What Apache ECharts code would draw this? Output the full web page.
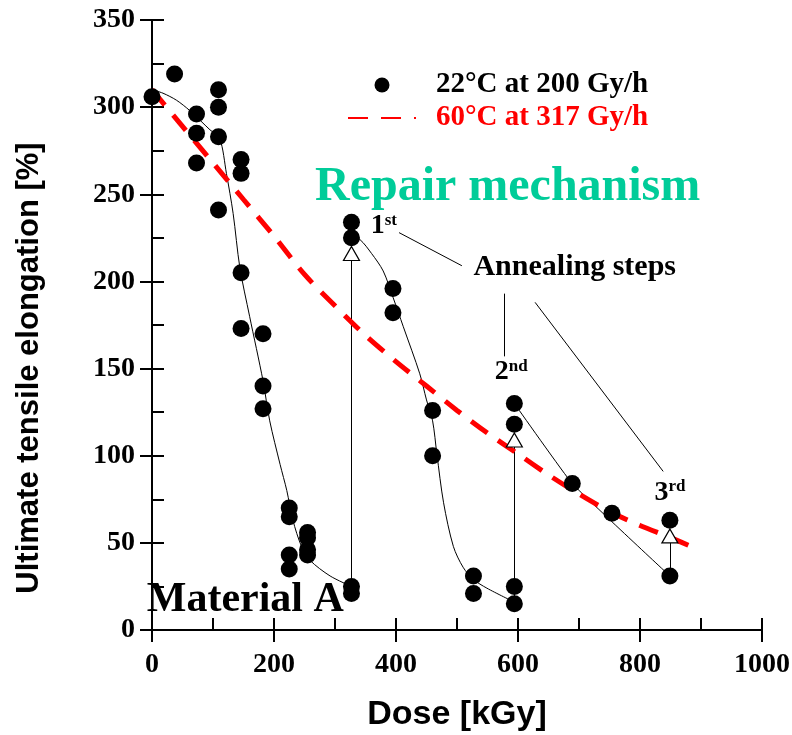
<!DOCTYPE html>
<html>
  <head>
    <meta charset="utf-8" />
    <title>Ultimate tensile elongation vs dose</title>
    <script src="https://cdn.jsdelivr.net/npm/echarts@6/dist/echarts.min.js"></script>
  </head>
  <body style="margin:0">
    <div id="main" style="width: 792px;height:735px; background-color: white"></div>
    <script type="text/javascript">
      // measured points, 22°C at 200 Gy/h  [dose kGy, elongation %]
      var roomTemp = [
        [0, 306], [37, 319],
        [73, 296], [73, 285], [73, 268],
        [109, 310], [109, 300], [109, 283], [109, 241],
        [146, 270], [146, 262], [146, 205], [146, 173],
        [182, 170], [182, 140], [182, 127],
        [225, 70], [225, 65], [225, 43], [225, 35],
        [255, 56], [255, 53], [255, 46], [255, 43],
        [327, 25], [327, 21], [327, 234], [327, 225],
        [395, 196], [395, 182],
        [460, 126], [460, 100],
        [527, 31], [527, 21],
        [594, 130], [594, 118], [594, 25], [594, 15],
        [689, 84], [754, 67],
        [849, 63], [849, 31]
      ];
      // 60°C at 317 Gy/h (dashed red)
      var hotDose = [0, 50, 100, 150, 200, 250, 300, 350, 400, 450, 500, 550, 600, 650, 700, 750, 800, 850, 890];
      var hotElong = [310, 289, 268, 247, 226, 204, 186, 169, 154, 140, 126, 113, 101, 89, 78, 68, 60, 53, 47];

      // fitted thin curves between annealing steps
      var fit1 = [[0, 310], [18, 308], [40, 304], [62, 298], [95, 287], [111, 282], [122, 262], [133, 239],
                  [144, 208], [160, 180], [182, 143], [193, 120], [210, 95], [221, 80], [231, 63],
                  [245, 48], [259, 40], [292, 31], [327, 25]];
      var fit2 = [[327, 226], [341, 224], [360, 216], [379, 206], [395, 191], [412, 174], [439, 147],
                  [450, 132], [460, 120], [467, 101], [478, 73], [494, 48], [510, 36], [527, 29],
                  [549, 24], [594, 16]];
      var fit3 = [[594, 130], [689, 84], [849, 31]];

      // annealing steps: before -> after (open triangles)
      var stepDose = [327, 594, 849];
      var stepFrom = [25, 16, 31];
      var stepTo = [216, 109, 54];

      var serif = "'Liberation Serif', 'Times New Roman', serif";
      var sans = "'Liberation Sans', Arial, sans-serif";

      function pairs(xs, ys) {
        return xs.map(function (x, i) { return [x, ys[i]]; });
      }

      var myChart = echarts.init(document.getElementById('main'));

      var tickLabel = { color: '#000', fontFamily: serif, fontWeight: 'bold', fontSize: 28 };
      var boxLine = { show: true, lineStyle: { color: '#000', width: 2 } };
      var sup = {
        a: { fontSize: 28, fontFamily: serif, fontWeight: 'bold', color: '#000' },
        b: { fontSize: 17, fontFamily: serif, fontWeight: 'bold', color: '#000', verticalAlign: 'top' }
      };

      var option = {
        animation: false,
        backgroundColor: '#fff',
        grid: { left: 152, right: 30, top: 20, bottom: 105, containLabel: false, outerBoundsMode: 'none' },
        legend: {
          orient: 'vertical',
          left: 342,
          top: 65,
          itemWidth: 68,
          itemHeight: 15,
          itemGap: 3,
          selectedMode: false,
          textStyle: { fontFamily: serif, fontWeight: 'bold', fontSize: 29, lineHeight: 30, padding: [0, 0, 0, 15] },
          data: [
            { name: '22°C at 200 Gy/h', textStyle: { color: '#000' } },
            { name: '60°C at 317 Gy/h', textStyle: { color: '#ff0000' }, itemStyle: { opacity: 0 } }
          ]
        },
        xAxis: [
          {
            type: 'value', min: 0, max: 1000, interval: 200,
            name: 'Dose [kGy]', nameLocation: 'middle', nameGap: 68,
            nameTextStyle: { color: '#000', fontFamily: sans, fontWeight: 'bold', fontSize: 34 },
            axisLine: boxLine,
            axisTick: { inside: true, length: 12, lineStyle: { color: '#000', width: 2 } },
            minorTick: { show: true, splitNumber: 2, length: 12, lineStyle: { color: '#000', width: 2 } },
            axisLabel: Object.assign({ margin: 21, formatter: function (v) { return String(v); } }, tickLabel),
            splitLine: { show: false }
          },
          {
            type: 'value', min: 0, max: 1000, interval: 200, position: 'top',
            axisLine: boxLine,
            axisTick: { inside: true, length: 12, lineStyle: { color: '#000', width: 2 } },
            axisLabel: { show: false },
            splitLine: { show: false }
          }
        ],
        yAxis: [
          {
            type: 'value', min: 0, max: 350, interval: 50,
            name: 'Ultimate tensile elongation [%]', nameLocation: 'middle', nameGap: 107, nameRotate: 90,
            nameTextStyle: { color: '#000', fontFamily: sans, fontWeight: 'bold', fontSize: 31, padding: [0, 86, 0, 0] },
            axisLine: boxLine,
            axisTick: { inside: true, length: 12, lineStyle: { color: '#000', width: 2 } },
            minorTick: { show: true, splitNumber: 2, length: 12, lineStyle: { color: '#000', width: 2 } },
            axisLabel: Object.assign({ margin: 17 }, tickLabel),
            splitLine: { show: false }
          },
          {
            type: 'value', min: 0, max: 350, interval: 50, position: 'right',
            axisLine: boxLine,
            axisTick: { inside: true, length: 12, lineStyle: { color: '#000', width: 2 } },
            axisLabel: { show: false },
            splitLine: { show: false }
          }
        ],
        series: [
          {
            name: '60°C at 317 Gy/h',
            type: 'line',
            data: pairs(hotDose, hotElong),
            smooth: 0.3,
            symbol: 'none',
            showSymbol: false,
            lineStyle: { color: '#ff0000', width: 5, type: [20, 13], cap: 'butt' },
            itemStyle: { color: '#ff0000' },
            z: 3
          },
          {
            name: 'fit1', type: 'line', data: fit1, smooth: 0.3, symbol: 'none',
            lineStyle: { color: '#000', width: 1 }, z: 2, silent: true
          },
          {
            name: 'fit2', type: 'line', data: fit2, smooth: 0.3, symbol: 'none',
            lineStyle: { color: '#000', width: 1 }, z: 2, silent: true
          },
          {
            name: 'fit3', type: 'line', data: fit3, smooth: 0.1, symbol: 'none',
            lineStyle: { color: '#000', width: 1 }, z: 2, silent: true
          },
          {
            name: 'steps',
            type: 'lines',
            coordinateSystem: 'cartesian2d',
            silent: true,
            lineStyle: { color: '#000', width: 1, opacity: 1 },
            data: stepDose.map(function (d, i) { return { coords: [[d, stepFrom[i]], [d, stepTo[i]]] }; })
              .concat([
                { coords: [[405, 228], [508, 209]] },
                { coords: [[577, 193], [577, 157]] },
                { coords: [[628, 188], [838, 91]] }
              ]),
            z: 2
          },
          {
            name: 'annealed',
            type: 'scatter',
            symbol: 'triangle',
            symbolSize: [16, 14],
            data: pairs(stepDose, stepTo),
            itemStyle: { color: '#fff', borderColor: '#000', borderWidth: 1.2, opacity: 1 },
            z: 5
          },
          {
            name: '22°C at 200 Gy/h',
            type: 'scatter',
            symbol: 'circle',
            symbolSize: 17,
            data: roomTemp,
            itemStyle: { color: '#000', opacity: 1 },
            z: 6
          },
          {
            name: 'notes',
            type: 'scatter',
            symbolSize: 0,
            silent: true,
            z: 7,
            itemStyle: { opacity: 1 },
            label: {
              show: true, position: 'inside', color: '#000', fontFamily: serif, fontWeight: 'bold',
              formatter: function (p) { return p.name; }
            },
            data: [
              { name: 'Repair mechanism', value: [583, 254], label: { fontSize: 48, color: '#00cc99' } },
              { name: 'Material A', value: [153, 17], label: { fontSize: 42 } },
              { name: 'Annealing steps', value: [693, 208], label: { fontSize: 30 } },
              { name: '{a|1}{b|st}', value: [380, 232], label: { rich: sup } },
              { name: '{a|2}{b|nd}', value: [589, 148], label: { rich: sup } },
              { name: '{a|3}{b|rd}', value: [849, 79], label: { rich: sup } }
            ]
          }
        ]
      };

      myChart.setOption(option);
    </script>
  </body>
</html>
